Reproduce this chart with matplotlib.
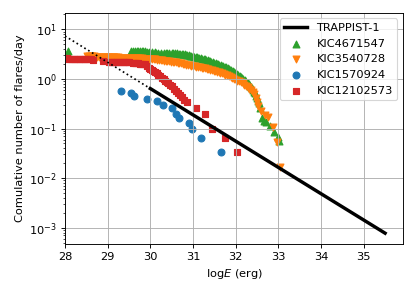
import numpy as np
import matplotlib
matplotlib.use('Agg')
import matplotlib.pyplot as plt

# TRAPPIST-1 power-law fit (logE, log N); dotted part is the extrapolation below 1e30
trappist_logE = [28.0, 30.0, 35.5]
trappist_logN = [0.866, -0.194, -3.11]

# KIC4671547
green_logE = [28.07, 29.55, 29.60, 29.64, 29.68, 29.71, 29.76, 29.80, 29.83, 29.88,
              29.92, 29.98, 30.04, 30.10, 30.14, 30.18, 30.25, 30.32, 30.36, 30.40,
              30.44, 30.50, 30.54, 30.58, 30.62, 30.66, 30.69, 30.73, 30.77, 30.81,
              30.84, 30.87, 30.90, 30.93, 30.96, 31.00, 31.03, 31.06, 31.09, 31.12,
              31.15, 31.19, 31.22, 31.25, 31.28, 31.31, 31.34, 31.37, 31.40, 31.43,
              31.47, 31.50, 31.53, 31.56, 31.59, 31.62, 31.65, 31.68, 31.71, 31.75,
              31.78, 31.81, 31.84, 31.87, 31.90, 31.93, 31.96, 31.99, 32.03, 32.06,
              32.09, 32.12, 32.15, 32.18, 32.22, 32.25, 32.28, 32.31, 32.34, 32.36,
              32.38, 32.41, 32.43, 32.45, 32.47, 32.50, 32.52, 32.54, 32.57, 32.61,
              32.66, 32.71, 32.80, 32.90, 32.99, 33.01]
green_N = [3.64, 3.64, 3.70, 3.72, 3.66, 3.64, 3.64, 3.62, 3.64, 3.58,
           3.56, 3.50, 3.47, 3.44, 3.40, 3.39, 3.38, 3.39, 3.35, 3.32,
           3.31, 3.31, 3.30, 3.31, 3.27, 3.25, 3.24, 3.22, 3.19, 3.16,
           3.11, 3.06, 3.02, 2.97, 2.92, 2.88, 2.83, 2.79, 2.75, 2.70,
           2.66, 2.62, 2.58, 2.54, 2.51, 2.45, 2.39, 2.34, 2.29, 2.23,
           2.18, 2.13, 2.08, 2.03, 1.98, 1.94, 1.89, 1.85, 1.81, 1.77,
           1.71, 1.66, 1.61, 1.55, 1.49, 1.43, 1.38, 1.32, 1.27, 1.21,
           1.16, 1.11, 1.05, 0.99, 0.94, 0.88, 0.83, 0.78, 0.73, 0.69,
           0.65, 0.60, 0.55, 0.51, 0.46, 0.41, 0.36, 0.32, 0.255, 0.16,
           0.145, 0.133, 0.110, 0.087, 0.069, 0.057]

# KIC3540728
orange_logE = [28.52, 28.56, 28.60, 28.64, 28.68, 28.72, 28.76, 28.80, 28.84, 28.88,
               28.92, 28.96, 29.00, 29.04, 29.08, 29.12, 29.16, 29.20, 29.24, 29.28,
               29.32, 29.36, 29.40, 29.44, 29.48, 29.52, 29.56, 29.60, 29.64, 29.68,
               29.72, 29.76, 29.80, 29.84, 29.88, 29.92, 29.96, 30.00, 30.04, 30.08,
               30.12, 30.16, 30.20, 30.24, 30.28, 30.32, 30.36, 30.40, 30.44, 30.48,
               30.52, 30.56, 30.60, 30.64, 30.68, 30.72, 30.76, 30.80, 30.84, 30.88,
               30.92, 30.96, 31.00, 31.04, 31.08, 31.12, 31.16, 31.20, 31.24, 31.28,
               31.32, 31.36, 31.40, 31.44, 31.48, 31.52, 31.56, 31.60, 31.64, 31.68,
               31.72, 31.76, 31.80, 31.84, 31.88, 31.92, 31.96, 32.00, 32.04, 32.08,
               32.12, 32.16, 32.20, 32.24, 32.28, 32.32, 32.36, 32.40, 32.44, 32.47,
               32.49, 32.53, 32.60, 32.68, 32.76, 32.88, 32.96, 33.04]
orange_N = [2.88, 2.88, 2.87, 2.86, 2.85, 2.83, 2.81, 2.81, 2.80, 2.79,
            2.77, 2.76, 2.75, 2.75, 2.74, 2.74, 2.73, 2.72, 2.71, 2.70,
            2.69, 2.69, 2.68, 2.67, 2.67, 2.66, 2.65, 2.64, 2.63, 2.62,
            2.61, 2.60, 2.59, 2.58, 2.57, 2.56, 2.54, 2.52, 2.51, 2.49,
            2.47, 2.45, 2.43, 2.41, 2.38, 2.34, 2.31, 2.28, 2.26, 2.24,
            2.22, 2.18, 2.15, 2.12, 2.08, 2.05, 2.02, 1.99, 1.95, 1.92,
            1.89, 1.86, 1.83, 1.80, 1.78, 1.75, 1.72, 1.69, 1.66, 1.64,
            1.61, 1.57, 1.54, 1.50, 1.47, 1.43, 1.40, 1.37, 1.33, 1.30,
            1.26, 1.22, 1.18, 1.14, 1.10, 1.06, 1.02, 0.97, 0.93, 0.89,
            0.85, 0.81, 0.77, 0.72, 0.68, 0.64, 0.60, 0.55, 0.49, 0.42,
            0.34, 0.29, 0.23, 0.184, 0.170, 0.107, 0.053, 0.017]

# KIC1570924
blue_logE = [29.31, 29.54, 29.62, 29.91, 30.15, 30.29, 30.51, 30.60, 30.67, 30.90,
             30.97, 31.19, 31.65]
blue_N = [0.56, 0.51, 0.46, 0.40, 0.36, 0.30, 0.26, 0.20, 0.166, 0.131,
          0.099, 0.065, 0.033]

# KIC12102573
red_logE = [28.00, 28.04, 28.08, 28.12, 28.16, 28.20, 28.24, 28.28, 28.32, 28.36,
            28.40, 28.44, 28.48, 28.52, 28.56, 28.60, 28.66, 28.90, 29.03, 29.07,
            29.11, 29.15, 29.19, 29.23, 29.27, 29.31, 29.35, 29.39, 29.43, 29.47,
            29.51, 29.59, 29.63, 29.67, 29.71, 29.75, 29.79, 29.83, 29.87, 29.92,
            29.96, 29.99, 30.03, 30.07, 30.11, 30.15, 30.19, 30.23, 30.27, 30.31,
            30.34, 30.38, 30.42, 30.46, 30.50, 30.55, 30.60, 30.65, 30.70, 30.74,
            30.80, 30.86, 31.08, 31.28, 31.44, 31.76, 32.04]
red_N = [2.60, 2.59, 2.58, 2.58, 2.57, 2.56, 2.56, 2.55, 2.54, 2.54,
         2.53, 2.52, 2.51, 2.50, 2.49, 2.48, 2.39, 2.31, 2.23, 2.23,
         2.22, 2.22, 2.21, 2.21, 2.20, 2.20, 2.19, 2.18, 2.17, 2.16,
         2.15, 2.08, 2.07, 2.06, 2.05, 2.04, 2.04, 2.03, 2.02, 1.85,
         1.70, 1.57, 1.50, 1.43, 1.37, 1.30, 1.20, 1.13, 1.06, 0.98,
         0.92, 0.87, 0.81, 0.76, 0.71, 0.63, 0.58, 0.53, 0.48, 0.43,
         0.38, 0.34, 0.255, 0.20, 0.099, 0.065, 0.033]


def main():
	dpi = 82
	fig = plt.figure(figsize=(415 / dpi, 297 / dpi), dpi=dpi)
	ax = fig.add_axes([0.1566, 0.1785, 0.8145, 0.7788])

	tN = [10 ** v for v in trappist_logN]
	ax.plot(trappist_logE[:2], tN[:2], 'k:', linewidth=1.5)
	ax.plot(trappist_logE[1:], tN[1:], 'k-', linewidth=3, label='TRAPPIST-1')

	ax.scatter(green_logE, green_N, marker='^', color='tab:green', label='KIC4671547')
	ax.scatter(orange_logE, orange_N, marker='v', color='tab:orange', label='KIC3540728')
	ax.scatter(blue_logE, blue_N, marker='o', color='tab:blue', label='KIC1570924')
	ax.scatter(red_logE, red_N, marker='s', color='tab:red', label='KIC12102573')

	ax.set_yscale('log')
	ax.set_xlim(28, 35.92)
	ax.set_ylim(4.7e-4, 21.7)
	ax.set_xlabel('log$E$ (erg)')
	ax.set_ylabel('Comulative number of flares/day')
	ax.grid(True)
	ax.legend(loc='upper right')
	fig.savefig('out.png', dpi=dpi)


if __name__ == '__main__':
	main()
